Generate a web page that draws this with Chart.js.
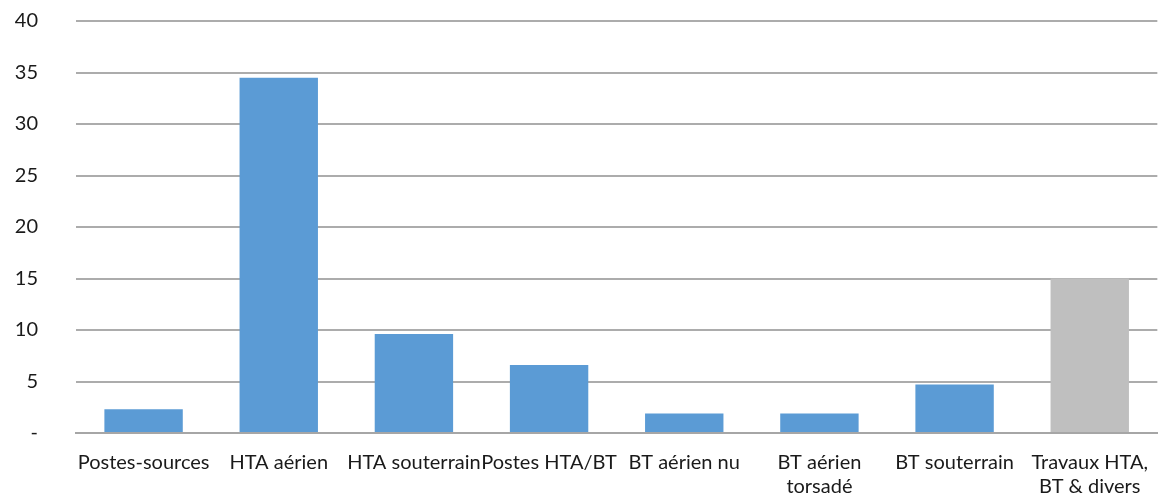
<!DOCTYPE html>
<html>
<head>
<meta charset="utf-8">
<script src="https://cdn.jsdelivr.net/npm/chart.js@4"></script>
<style>
  html, body { margin: 0; padding: 0; background: #fff; }
  #wrap { width: 1158px; height: 501px; }
</style>
</head>
<body>
<div id="wrap"><canvas id="chart" width="1158" height="501"></canvas></div>
<script>
// categories of works and their values
const categories = [
    'Postes-sources',
    'HTA aérien',
    'HTA souterrain',
    'Postes HTA/BT',
    'BT aérien nu',
    ['BT aérien', 'torsadé'],
    'BT souterrain',
    ['Travaux HTA,', 'BT & divers']
];
const values = [2.3, 34.5, 9.6, 6.6, 1.9, 1.9, 4.7, 15.0];
const barColors = ['#5b9bd5', '#5b9bd5', '#5b9bd5', '#5b9bd5', '#5b9bd5', '#5b9bd5', '#5b9bd5', '#bfbfbf'];
const yTicks = [0, 5, 10, 15, 20, 25, 30, 35, 40];

Chart.defaults.font.family = 'Lato, "Open Sans", sans-serif';
Chart.defaults.font.size = 20;
Chart.defaults.color = '#1a1a1a';

const chart = new Chart(document.getElementById('chart'), {
    type: 'bar',
    data: {
        labels: categories,
        datasets: [{
            data: values,
            backgroundColor: barColors,
            borderWidth: 0,
            barPercentage: 0.58,
            categoryPercentage: 1
        }]
    },
    options: {
        responsive: false,
        animation: false,
        layout: { padding: { top: 21, right: -2, left: 0, bottom: 0 } },
        plugins: {
            legend: { display: false },
            tooltip: { enabled: false }
        },
        scales: {
            x: {
                grid: { display: false },
                border: { color: '#a6a6a6', width: 2 },
                ticks: { maxRotation: 0, autoSkip: false, padding: 10 },
                afterFit: function (scale) { scale.height = 68; }
            },
            y: {
                min: 0,
                max: 40,
                afterBuildTicks: function (scale) {
                    scale.ticks = yTicks.map(v => ({ value: v }));
                },
                ticks: {
                    padding: 2,
                    callback: function (v) { return v === 0 ? '-' : v; }
                },
                // invisible tick marks keep the labels clear of the plot
                grid: { color: '#acacac', lineWidth: 2, tickLength: 36, tickColor: 'rgba(0,0,0,0)' },
                border: { display: false },
                afterFit: function (scale) { scale.width = 76; }
            }
        }
    }
});
</script>
</body>
</html>
